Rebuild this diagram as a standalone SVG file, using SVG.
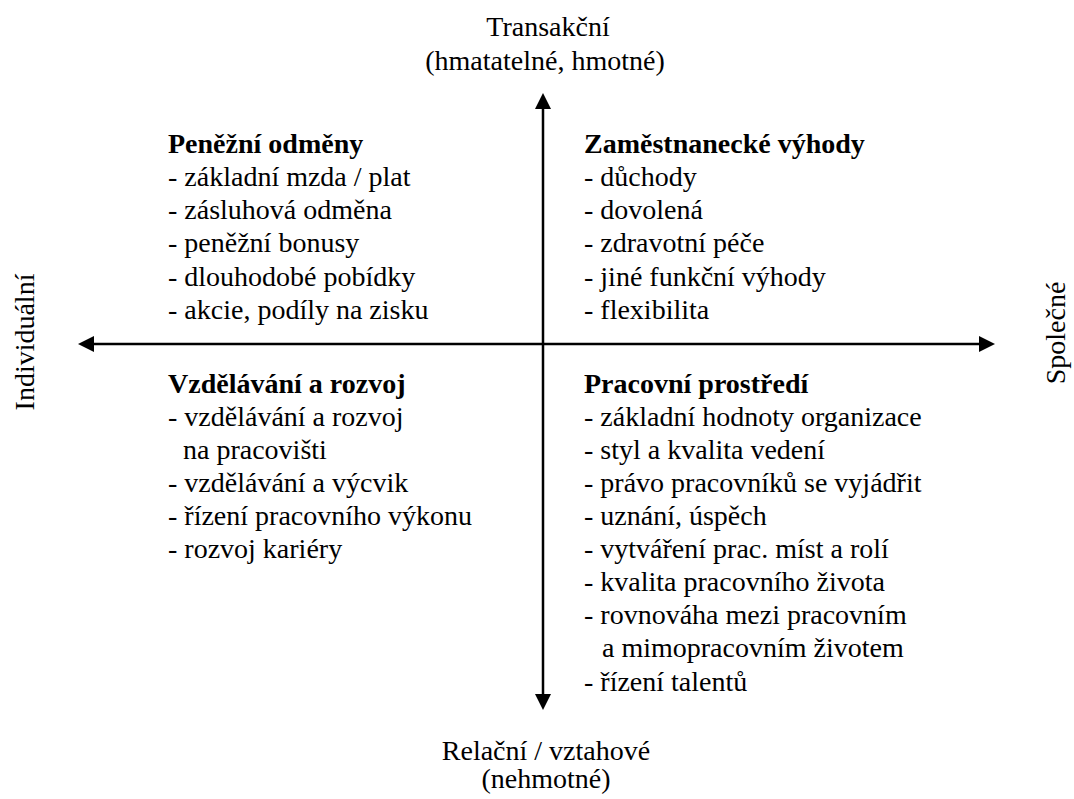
<svg xmlns="http://www.w3.org/2000/svg" width="1074" height="799" viewBox="0 0 1074 799" font-family="Liberation Serif" font-size="28">
  <rect width="1074" height="799" fill="#fff"/>

  <!-- axes with arrowheads at all four ends -->
  <g id="connectors">
    <line x1="543" y1="100" x2="543" y2="703" stroke="#000" stroke-width="2.5"/>
    <line x1="85" y1="344" x2="988" y2="344" stroke="#000" stroke-width="2.5"/>
    <polygon points="543,93 535,109 551,109" fill="#000"/>
    <polygon points="543,710 535,694 551,694" fill="#000"/>
    <polygon points="78,344 94,336 94,352" fill="#000"/>
    <polygon points="995,344 979,336 979,352" fill="#000"/>
  </g>

  <!-- axis labels -->
  <g id="label-top" text-anchor="middle">
    <text x="548" y="36">Transakční</text>
    <text x="545" y="70">(hmatatelné, hmotné)</text>
  </g>
  <g id="label-bottom" text-anchor="middle">
    <text x="546" y="760">Relační / vztahové</text>
    <text x="546" y="788">(nehmotné)</text>
  </g>
  <g id="label-left" text-anchor="middle">
    <text transform="translate(34,342) rotate(-90)">Individuální</text>
  </g>
  <g id="label-right" text-anchor="middle">
    <text transform="translate(1065,333) rotate(-90)">Společné</text>
  </g>

  <!-- quadrants -->
  <g id="q-penezni-odmeny">
    <text x="168" y="153" font-weight="bold">Peněžní odměny</text>
    <text x="168" y="186">- základní mzda / plat</text>
    <text x="168" y="219">- zásluhová odměna</text>
    <text x="168" y="252">- peněžní bonusy</text>
    <text x="168" y="286">- dlouhodobé pobídky</text>
    <text x="168" y="319">- akcie, podíly na zisku</text>
  </g>
  <g id="q-zamestnanecke-vyhody">
    <text x="584" y="153" font-weight="bold">Zaměstnanecké výhody</text>
    <text x="584" y="186">- důchody</text>
    <text x="584" y="219">- dovolená</text>
    <text x="584" y="252">- zdravotní péče</text>
    <text x="584" y="286">- jiné funkční výhody</text>
    <text x="584" y="319">- flexibilita</text>
  </g>
  <g id="q-vzdelavani">
    <text x="168" y="393" font-weight="bold">Vzdělávání a rozvoj</text>
    <text x="168" y="426">- vzdělávání a rozvoj</text>
    <text x="183" y="459">na pracovišti</text>
    <text x="168" y="492">- vzdělávání a výcvik</text>
    <text x="168" y="525">- řízení pracovního výkonu</text>
    <text x="168" y="558">- rozvoj kariéry</text>
  </g>
  <g id="q-pracovni-prostredi">
    <text x="584" y="393" font-weight="bold">Pracovní prostředí</text>
    <text x="584" y="426">- základní hodnoty organizace</text>
    <text x="584" y="459">- styl a kvalita vedení</text>
    <text x="584" y="492">- právo pracovníků se vyjádřit</text>
    <text x="584" y="525">- uznání, úspěch</text>
    <text x="584" y="558">- vytváření prac. míst a rolí</text>
    <text x="584" y="591">- kvalita pracovního života</text>
    <text x="584" y="624">- rovnováha mezi pracovním</text>
    <text x="602" y="657">a mimopracovním životem</text>
    <text x="584" y="691">- řízení talentů</text>
  </g>
</svg>
